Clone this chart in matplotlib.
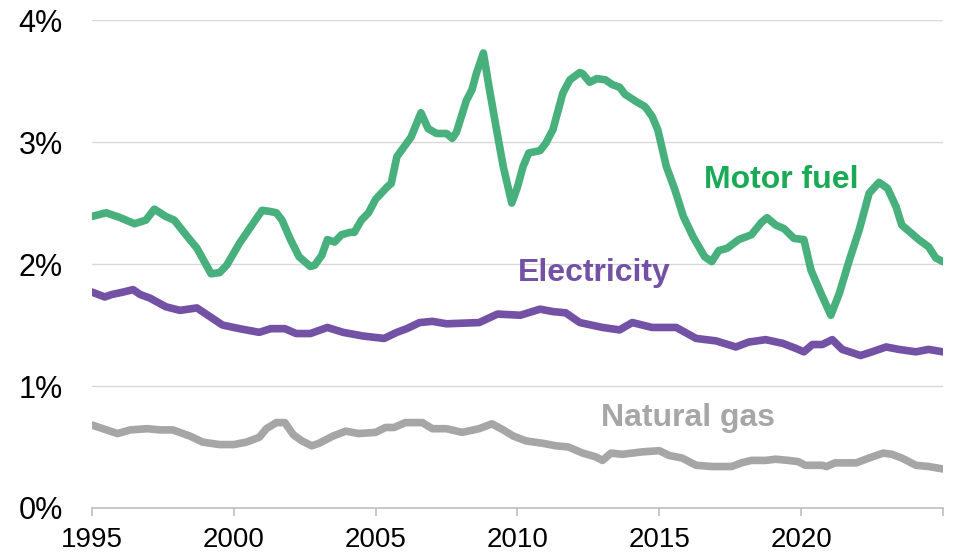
import matplotlib.pyplot as plt
from matplotlib.ticker import FuncFormatter

# DATA (share of spending, %)
fuel_years = [1995.0, 1995.5, 1996.0, 1996.5, 1996.9, 1997.2, 1997.6, 1997.9, 1998.45, 1998.7,
              1999.2, 1999.5, 1999.75, 2000.2, 2000.7, 2001.0, 2001.3, 2001.5, 2001.7, 2002.0,
              2002.3, 2002.7, 2002.85, 2003.1, 2003.3, 2003.55, 2003.8, 2004.1, 2004.25, 2004.5,
              2004.75, 2005.0, 2005.4, 2005.55, 2005.75, 2006.0, 2006.25, 2006.6, 2006.85, 2007.15,
              2007.5, 2007.7, 2007.85, 2008.2, 2008.4, 2008.55, 2008.8, 2009.0, 2009.25, 2009.5,
              2009.8, 2010.0, 2010.2, 2010.4, 2010.8, 2011.0, 2011.25, 2011.6, 2011.85, 2012.2,
              2012.3, 2012.55, 2012.8, 2013.1, 2013.35, 2013.6, 2013.8, 2014.2, 2014.5, 2014.75,
              2014.95, 2015.25, 2015.55, 2015.85, 2016.2, 2016.6, 2016.85, 2017.1, 2017.4, 2017.8,
              2018.25, 2018.6, 2018.8, 2019.1, 2019.4, 2019.75, 2020.1, 2020.35, 2020.7, 2021.05,
              2021.35, 2021.7, 2022.05, 2022.4, 2022.75, 2023.05, 2023.35, 2023.55, 2023.85, 2024.15,
              2024.5, 2024.75, 2025.0]
fuel_vals = [2.39, 2.42, 2.38, 2.33, 2.36, 2.45, 2.39, 2.36, 2.20, 2.13,
             1.92, 1.93, 1.99, 2.17, 2.34, 2.44, 2.43, 2.42, 2.36, 2.20,
             2.06, 1.98, 1.99, 2.07, 2.20, 2.18, 2.24, 2.26, 2.26, 2.36,
             2.42, 2.53, 2.63, 2.66, 2.88, 2.96, 3.04, 3.24, 3.11, 3.07,
             3.07, 3.03, 3.08, 3.34, 3.43, 3.56, 3.73, 3.45, 3.12, 2.80,
             2.50, 2.63, 2.80, 2.91, 2.93, 2.99, 3.10, 3.40, 3.51, 3.57,
             3.56, 3.49, 3.52, 3.51, 3.47, 3.45, 3.39, 3.33, 3.29, 3.21,
             3.10, 2.80, 2.61, 2.39, 2.22, 2.06, 2.02, 2.11, 2.13, 2.20,
             2.24, 2.34, 2.38, 2.32, 2.29, 2.21, 2.20, 1.95, 1.76, 1.58,
             1.76, 2.03, 2.28, 2.58, 2.67, 2.62, 2.47, 2.32, 2.26, 2.20,
             2.14, 2.05, 2.02]

elec_years = [1995.0, 1995.45, 1995.7, 1996.1, 1996.45, 1996.7, 1997.05, 1997.6, 1998.1, 1998.7,
              1999.15, 1999.6, 2000.2, 2000.9, 2001.3, 2001.8, 2002.2, 2002.7, 2003.3, 2003.85,
              2004.55, 2005.3, 2005.75, 2006.1, 2006.55, 2007.0, 2007.5, 2008.65, 2009.3, 2010.1,
              2010.8, 2011.25, 2011.7, 2012.2, 2013.0, 2013.6, 2014.05, 2014.75, 2015.6, 2016.3,
              2017.0, 2017.7, 2018.15, 2018.75, 2019.35, 2019.8, 2020.1, 2020.4, 2020.75, 2021.1,
              2021.45, 2022.1, 2022.5, 2023.0, 2023.45, 2024.05, 2024.5, 2025.0]
elec_vals = [1.77, 1.73, 1.75, 1.77, 1.79, 1.75, 1.72, 1.65, 1.62, 1.64,
             1.57, 1.50, 1.47, 1.44, 1.47, 1.47, 1.43, 1.43, 1.48, 1.44,
             1.41, 1.39, 1.44, 1.47, 1.52, 1.53, 1.51, 1.52, 1.59, 1.58,
             1.63, 1.61, 1.60, 1.52, 1.48, 1.46, 1.52, 1.48, 1.48, 1.39,
             1.37, 1.32, 1.36, 1.38, 1.35, 1.31, 1.28, 1.34, 1.34, 1.38,
             1.30, 1.25, 1.28, 1.32, 1.30, 1.28, 1.30, 1.28]

gas_years = [1995.0, 1995.9, 1996.35, 1996.95, 1997.4, 1997.85, 1998.45, 1998.9, 1999.5, 2000.0,
             2000.45, 2000.9, 2001.15, 2001.5, 2001.8, 2002.1, 2002.4, 2002.75, 2003.0, 2003.5,
             2003.95, 2004.4, 2005.0, 2005.35, 2005.65, 2006.05, 2006.65, 2007.0, 2007.5, 2008.05,
             2008.65, 2009.1, 2009.5, 2009.85, 2010.3, 2010.9, 2011.35, 2011.8, 2012.3, 2012.75,
             2013.0, 2013.3, 2013.7, 2014.4, 2015.0, 2015.35, 2015.8, 2016.3, 2016.85, 2017.55,
             2017.9, 2018.25, 2018.75, 2019.1, 2019.55, 2019.9, 2020.15, 2020.75, 2020.9, 2021.2,
             2021.95, 2022.4, 2022.9, 2023.2, 2023.55, 2024.05, 2024.5, 2025.0]
gas_vals = [0.68, 0.61, 0.64, 0.65, 0.64, 0.64, 0.59, 0.54, 0.52, 0.52,
            0.54, 0.58, 0.65, 0.70, 0.70, 0.60, 0.55, 0.51, 0.53, 0.59,
            0.63, 0.61, 0.62, 0.66, 0.66, 0.70, 0.70, 0.65, 0.65, 0.62,
            0.65, 0.69, 0.64, 0.59, 0.55, 0.53, 0.51, 0.50, 0.45, 0.42,
            0.39, 0.45, 0.44, 0.46, 0.47, 0.43, 0.41, 0.35, 0.34, 0.34,
            0.37, 0.39, 0.39, 0.40, 0.39, 0.38, 0.35, 0.35, 0.34, 0.37,
            0.37, 0.41, 0.45, 0.44, 0.41, 0.35, 0.34, 0.32]

x_ticks = [1995, 2000, 2005, 2010, 2015, 2020, 2025]
x_tick_labels = ['1995', '2000', '2005', '2010', '2015', '2020', '']
y_ticks = [0, 1, 2, 3, 4]

plt.rcParams['font.family'] = ['Liberation Sans', 'DejaVu Sans']

fig = plt.figure(figsize=(9.55, 5.57), dpi=100)
ax = fig.add_axes([0.0963, 0.088, 0.891, 0.876])

line_kw = dict(lw=5.5, solid_capstyle='round', solid_joinstyle='round')
ax.plot(gas_years, gas_vals, color='#a6a6a6', **line_kw)
ax.plot(elec_years, elec_vals, color='#7352a5', **line_kw)
ax.plot(fuel_years, fuel_vals, color='#47b07c', **line_kw)

# Series labels
ax.text(2019.3, 2.69, 'Motor fuel', color='#1aaa55', fontsize=23, fontweight='bold', ha='center', va='center')
ax.text(2012.7, 1.93, 'Electricity', color='#7352a5', fontsize=23, fontweight='bold', ha='center', va='center')
ax.text(2016.0, 0.74, 'Natural gas', color='#a6a6a6', fontsize=23, fontweight='bold', ha='center', va='center')

ax.set_xlim(1995, 2025)
ax.set_ylim(0, 4)
ax.set_xticks(x_ticks)
ax.set_xticklabels(x_tick_labels)
ax.set_yticks(y_ticks)
ax.yaxis.set_major_formatter(FuncFormatter(lambda v, p: f'{v:.0f}%'))

ax.grid(axis='y', color='#d9d9d9', lw=1)
ax.set_axisbelow(True)
for side in ['top', 'right', 'left']:
    ax.spines[side].set_visible(False)
ax.spines['bottom'].set_color('#bfbfbf')
ax.spines['bottom'].set_linewidth(1.2)
ax.tick_params(axis='x', direction='out', length=6, color='#bfbfbf', width=1.2, labelsize=20, pad=8)
ax.tick_params(axis='y', length=0, labelsize=22, pad=21)

plt.savefig('out.png', dpi=100)
